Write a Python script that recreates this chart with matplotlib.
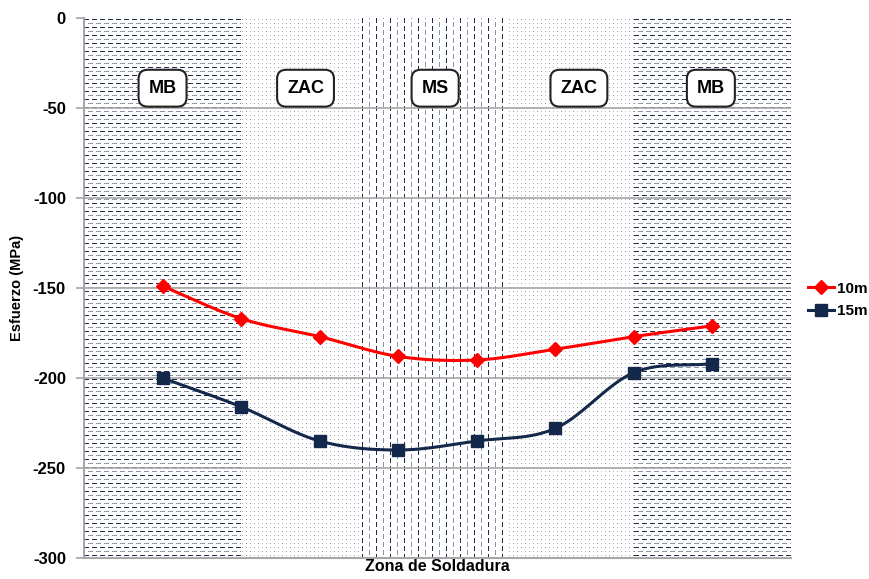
import numpy as np
import matplotlib
matplotlib.use("Agg")
import matplotlib.pyplot as plt

plt.rcParams['font.family'] = ['Liberation Sans', 'DejaVu Sans']

# Data
positions = [1, 2, 3, 4, 5, 6, 7, 8]
stress_10m = [-149, -167, -177, -188, -190, -184, -177, -171]
stress_15m = [-200, -216, -235, -240, -235, -228, -197, -192]
series_names = ['10m', '15m']

zone_names = ['MB', 'ZAC', 'MS', 'ZAC', 'MB']
zone_edges = [0, 2, 3.5, 5.4, 7, 9]
zone_label_x = [1.0, 2.82, 4.47, 6.3, 7.98]
zone_kinds = ['dash_h', 'dots', 'dash_v', 'dots', 'dash_h']

y_ticks = [0, -50, -100, -150, -200, -250, -300]

DARK = np.array([0.11, 0.17, 0.29])
GRAY = np.array([0.55, 0.59, 0.66])
LIGHT = np.array([0.72, 0.75, 0.79])

# axes box in figure pixels
AX_L, AX_B, AX_W, AX_H = 84, 21, 707, 540
FIG_W, FIG_H = 869, 579


def pattern(kind, h, w):
    img = np.ones((h, w, 3))
    r = np.arange(h)[:, None]
    c = np.arange(w)[None, :]
    if kind == 'dash_h':
        band = r // 4
        on = (r % 4 == 1) & (((c + 4 * (band % 2)) % 8) < 5)
        dark = np.broadcast_to(band % 2 == 0, on.shape)
        img[on & dark] = DARK
        img[on & ~dark] = GRAY
    elif kind == 'dash_v':
        col = c // 7
        on = (c % 7 == 3) & (((r + 4 * (col % 2)) % 8) < 5)
        dark = np.broadcast_to(col % 2 == 0, on.shape)
        img[on & dark] = DARK
        img[on & ~dark] = GRAY
    else:
        on = (r % 4 == 1) & (c % 4 == 1)
        darker = on & (((r // 4) + (c // 4)) % 3 == 0)
        img[on] = LIGHT
        img[darker] = GRAY
    return img


def catmull_rom(xs, ys, n=30, tension=0.5):
    xs = np.asarray(xs, float)
    ys = np.asarray(ys, float)
    px = np.concatenate([[2 * xs[0] - xs[1]], xs, [2 * xs[-1] - xs[-2]]])
    py = np.concatenate([[2 * ys[0] - ys[1]], ys, [2 * ys[-1] - ys[-2]]])
    out_x, out_y = [], []
    t = np.linspace(0, 1, n)
    for i in range(1, len(px) - 2):
        p0, p1, p2, p3 = (np.array([px[j], py[j]]) for j in (i - 1, i, i + 1, i + 2))
        m1 = tension * (p2 - p0)
        m2 = tension * (p3 - p1)
        h00 = 2 * t**3 - 3 * t**2 + 1
        h10 = t**3 - 2 * t**2 + t
        h01 = -2 * t**3 + 3 * t**2
        h11 = t**3 - t**2
        pts = (h00[:, None] * p1 + h10[:, None] * m1 +
               h01[:, None] * p2 + h11[:, None] * m2)
        out_x.extend(pts[:, 0])
        out_y.extend(pts[:, 1])
    return np.array(out_x), np.array(out_y)


fig = plt.figure(figsize=(FIG_W / 100, FIG_H / 100), dpi=100)
ax = fig.add_axes([AX_L / FIG_W, AX_B / FIG_H, AX_W / FIG_W, AX_H / FIG_H])
ax.set_xlim(0, 9)
ax.set_ylim(-300, 0)
ax.set_facecolor('none')

# pixel-exact background fills for the weld zones
bg = np.ones((AX_H, AX_W, 3))
cols = [int(round(e * AX_W / 9)) for e in zone_edges]
for kind, c0, c1 in zip(zone_kinds, cols[:-1], cols[1:]):
    bg[:, c0:c1] = pattern(kind, AX_H, c1 - c0)
fig.figimage(bg, xo=AX_L, yo=AX_B, origin='upper', zorder=-1)

for y in y_ticks[1:-1]:
    ax.axhline(y, color='#a6a6a6', lw=1.2, zorder=1)

for name, x in zip(zone_names, zone_label_x):
    ax.text(x, -39, name, ha='center', va='center', fontsize=13,
            fontweight='bold', color='black', zorder=5,
            bbox=dict(boxstyle='round,pad=0.55,rounding_size=0.5',
                      fc='white', ec='#222222', lw=1.5))

sx, sy = catmull_rom(positions, stress_10m)
ax.plot(sx, sy, color='#ff0000', lw=2.2, zorder=3)
ax.plot(positions, stress_10m, ls='none', marker='D', ms=7,
        color='#ff0000', zorder=4)
sx, sy = catmull_rom(positions, stress_15m)
ax.plot(sx, sy, color='#13284a', lw=2.2, zorder=3)
ax.plot(positions, stress_15m, ls='none', marker='s', ms=8,
        color='#13284a', zorder=4)

ax.set_yticks(y_ticks)
ax.set_yticklabels([str(v) for v in y_ticks], fontsize=12, fontweight='bold')
ax.set_xticks([])
ax.tick_params(axis='y', direction='out', length=6, color='#a6a6a6', width=1.2, pad=7)
for s in ('top', 'right'):
    ax.spines[s].set_visible(False)
for s in ('left', 'bottom'):
    ax.spines[s].set_color('#a6a6a6')
    ax.spines[s].set_linewidth(1.5)

ax.set_ylabel('Esfuerzo (MPa)', fontsize=10.5, fontweight='bold', labelpad=6)
ax.set_xlabel('Zona de Soldadura', fontsize=11.5, fontweight='bold', labelpad=1)

# Legend outside on the right
handles = [
    plt.Line2D([], [], color='#ff0000', lw=2.2, marker='D', ms=7),
    plt.Line2D([], [], color='#13284a', lw=2.2, marker='s', ms=8),
]
fig.legend(handles, series_names, loc='center left',
           bbox_to_anchor=(806 / FIG_W, 1 - 300 / FIG_H), frameon=False,
           prop=dict(size=11, weight='bold'), handlelength=1.7,
           handletextpad=0.2, labelspacing=0.55, borderpad=0.1,
           borderaxespad=0.0)

fig.savefig('out.png', dpi=100)
